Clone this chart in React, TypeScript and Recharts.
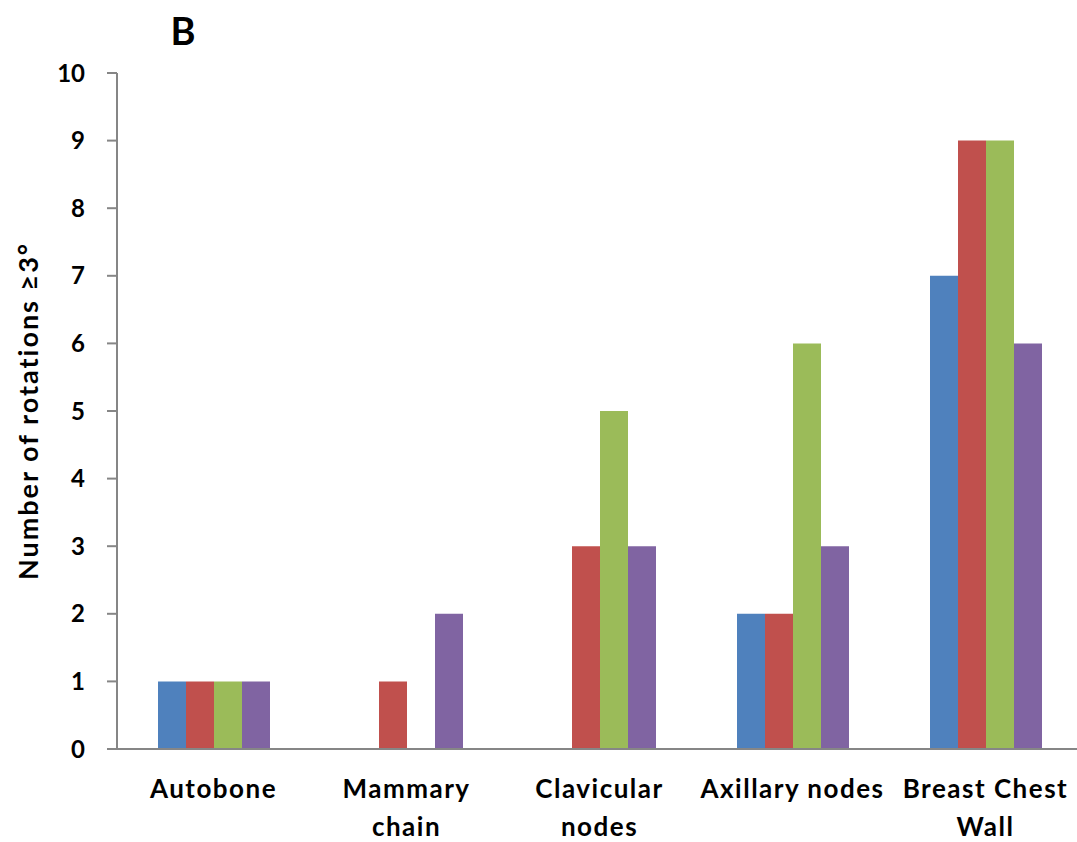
import { Bar, BarChart, Label, XAxis, YAxis } from "recharts";

const categories = ["Autobone", "Mammary\nchain", "Clavicular\nnodes", "Axillary nodes", "Breast Chest\nWall"];
const series1 = [1, 0, 0, 2, 7];
const series2 = [1, 1, 3, 2, 9];
const series3 = [1, 0, 5, 6, 9];
const series4 = [1, 2, 3, 3, 6];
const yTicks = [0, 1, 2, 3, 4, 5, 6, 7, 8, 9, 10];

const colors = ["#4F81BD", "#C0504D", "#9BBB59", "#8064A2"];
const FONT = "Lato, 'Open Sans', sans-serif";

const data = categories.map((name, i) => ({
  name,
  s1: series1[i],
  s2: series2[i],
  s3: series3[i],
  s4: series4[i],
}));

function CategoryTick({ x, y, payload }: any) {
  const lines = String(payload.value).split("\n");
  return (
    <text
      x={x}
      y={y}
      textAnchor="middle"
      fill="#000"
      fontSize={26}
      fontWeight={700}
      fontFamily={FONT}
      letterSpacing={1.5}
    >
      {lines.map((line, i) => (
        <tspan key={i} x={x} dy={i === 0 ? 41 : 38}>
          {line}
        </tspan>
      ))}
    </text>
  );
}

export default function App() {
  return (
    <div style={{ position: "absolute", left: 0, top: 0, width: 1077, height: 842, overflow: "hidden", background: "#fff" }}>
      <BarChart
        width={1082}
        height={842}
        data={data}
        margin={{ top: 73, right: 0, bottom: 0, left: 0 }}
        barCategoryGap={41}
        barGap={0}
      >
        <text x={183} y={45} textAnchor="middle" fontSize={38} fontWeight={700} fontFamily={FONT} fill="#000">
          B
        </text>
        <XAxis
          dataKey="name"
          height={93}
          interval={0}
          tickLine={false}
          axisLine={{ stroke: "#868686", strokeWidth: 2 }}
          tick={<CategoryTick />}
        />
        <YAxis
          width={117}
          domain={[0, 10]}
          ticks={yTicks}
          interval={0}
          tickSize={10}
          tickMargin={22}
          axisLine={{ stroke: "#868686", strokeWidth: 2 }}
          tickLine={{ stroke: "#868686", strokeWidth: 2 }}
          tick={{ fill: "#000", fontSize: 24, fontWeight: 700, fontFamily: FONT }}
        >
          <Label
            value="Number of rotations ≥3°"
            angle={-90}
            position="insideLeft"
            offset={28}
            style={{ textAnchor: "middle", fill: "#000", fontSize: 27, fontWeight: 700, fontFamily: FONT, letterSpacing: 2 }}
          />
        </YAxis>
        <Bar dataKey="s1" fill={colors[0]} isAnimationActive={false} />
        <Bar dataKey="s2" fill={colors[1]} isAnimationActive={false} />
        <Bar dataKey="s3" fill={colors[2]} isAnimationActive={false} />
        <Bar dataKey="s4" fill={colors[3]} isAnimationActive={false} />
      </BarChart>
    </div>
  );
}
